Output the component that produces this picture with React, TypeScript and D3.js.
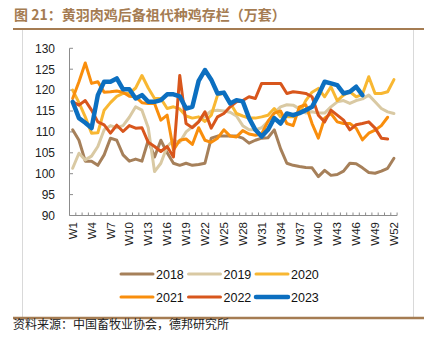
import React from "react";
import * as d3 from "d3";

const weeks: number[] = d3.range(1, 53);
const yTicks: number[] = [90, 95, 100, 105, 110, 115, 120, 125, 130];
const seriesNames: string[] = ["2018", "2019", "2020", "2021", "2022", "2023"];

const s2018: (number | null)[] = [110.5, 108, 103, 103, 102, 104.5, 108.5, 108, 104.5, 103, 103.5, 103, 108, 104, 108, 105, 102.5, 102, 102.5, 102, 102.2, 102.5, 108.5, 109, 109, 109, 109, 108.5, 107.3, 108, 108.5, 108.6, 110.5, 106, 102.5, 102, 101.7, 101.5, 101.4, 99.3, 100.8, 99.6, 99.8, 100.6, 102.5, 102.4, 101.4, 100.3, 100.1, 100.6, 101.3, 103.7];
const s2019: (number | null)[] = [101.3, 104.9, 103.3, 104.2, 106.5, 110.5, 111.5, 111, 111.5, 113.5, 116, 115.2, 111, 100.5, 102.5, 106.5, 108, 107.5, 110, 111.2, 112.5, 113.8, 115, 115.2, 115, 114.7, 113.8, 111.5, 110.5, 110.5, 111, 112.5, 114.5, 116, 116.5, 116.4, 115.5, 114.5, 114.8, 114.5, 114.5, 116, 117.2, 117.5, 116.8, 117.5, 117.9, 118.8, 117.2, 115.6, 114.8, 114.4];
const s2020: (number | null)[] = [120, 117, 113.6, 109.7, 109.8, 115.2, 117, 118.5, 119.2, 119.2, 120.5, 123.5, 120.5, 118, 118, 115.6, 116, 115.5, 113.8, 113.3, 113.6, 112.5, 114, 118.8, 119.3, 117, 114.4, 113.8, 113.3, 113.3, 113.6, 114, 115.6, 113.6, 113.6, 113.6, 114.5, 117.5, 119.5, 120.4, 118.4, 120.8, 117.5, 118.8, 119.6, 118.4, 119, 123.2, 119.2, 119.2, 119.6, 122.5];
const s2021: (number | null)[] = [118, 122, 126.5, 121.6, 122, 119.5, 119.6, 119.8, 119.5, 118.5, 118.4, 117, 116.8, 116.8, 112.8, 114, 105.7, 108, 108.3, 107, 111, 108, 107.5, 108.5, 110.5, 109, 108.8, 110.3, 109.5, 109.2, 109.5, 112.5, 114.5, 115, 112, 111.5, 116, 116.5, 112, 108.5, 113.3, 114.4, 112.4, 112, 112, 110.9, 108.1, 109.7, 110.4, 111.5, 113.5, null];
const s2022: (number | null)[] = [117.2, 116.4, 117.5, 115.2, 112.4, 111.7, 109.7, 111.6, 110.1, 111.5, 110.9, 111, 107.5, 106.5, 105.3, 106.5, 104, 123.5, 112, 111, 112.4, 114.8, 110.9, 113.6, 114.4, 116, 117.2, 117.5, 118.4, 118, 121.6, 121.6, 121.6, 121.6, 119.2, 119.6, 119.4, 119.2, 118.4, 114, 112.4, 115.2, 114, 112.8, 110.5, 111.7, 112, 112.4, 110.9, 108.5, 108.3, null];
const s2023: (number | null)[] = [117.2, 113.3, 112.2, 110.9, 118.8, 122, 122, 122.8, 120.2, 120.2, 118, 118.8, 117.2, 117.2, 117.6, 119, 119, 118.5, 115.6, 116, 122.2, 124.8, 122.5, 119.2, 119.4, 116.8, 117.6, 117.3, 113.3, 110.5, 108.9, 110.5, 113.3, 112, 114.4, 114, 114.5, 115.2, 116, 118.8, 122, 121.6, 121.2, 119.2, 119.6, 120.8, 118.8, null, null, null, null, null];

const allSeries = [s2018, s2019, s2020, s2021, s2022, s2023];
const colors = ["#A6805A", "#D9C9A3", "#F8B732", "#F98E0C", "#D8561C", "#0C6FC0"];
const widths = [3, 3, 3, 3, 3, 4.5];

export default function App() {
  const x = d3.scaleBand<string>().domain(weeks.map(String)).range([69.5, 397.1]).padding(0);
  const cx = (w: number) => (x(String(w)) as number) + x.bandwidth() / 2;
  const y = d3.scaleLinear().domain([90, 130]).range([215.5, 48.3]);
  const line = d3
    .line<number | null>()
    .defined((d) => d !== null)
    .x((_, i) => cx(weeks[i]))
    .y((d) => y(d as number));

  const font = "'Liberation Sans', Arial, sans-serif";
  const brown = "#A57C52";

  return (
    <svg
      width={437}
      height={356}
      style={{ position: "absolute", left: 0, top: 0, background: "#fff" }}
    >
      <rect x={0} y={0} width={437} height={356} fill="#fff" />
      <text
        x={14}
        y={20}
        fontFamily="'Noto Sans CJK SC', sans-serif"
        fontWeight="bold"
        fontSize={14}
        fill={brown}
      >
        图 21：黄羽肉鸡后备祖代种鸡存栏（万套）
      </text>
      {/* frame */}
      <rect x={22.5} y={29} width={391} height={289} fill="none" stroke="#D9D9D9" strokeWidth={1} />
      <line x1={13} x2={424} y1={29} y2={29} stroke={brown} strokeWidth={2} />
      <line x1={13} x2={424} y1={318} y2={318} stroke={brown} strokeWidth={2.5} />

      {/* y axis */}
      <line x1={69.5} x2={69.5} y1={y(130)} y2={y(90)} stroke="#8C8C8C" strokeWidth={1} />
      {yTicks.map((t) => (
        <g key={t}>
          <line x1={69.5} x2={73} y1={y(t)} y2={y(t)} stroke="#8C8C8C" strokeWidth={1} />
          <text
            x={55}
            y={y(t)}
            dy="0.36em"
            textAnchor="end"
            fontFamily={font}
            fontSize={12}
            fill="#222"
          >
            {t}
          </text>
        </g>
      ))}

      {/* x axis */}
      <line x1={69.5} x2={397.1} y1={y(90)} y2={y(90)} stroke="#8C8C8C" strokeWidth={1} />
      {weeks.map((w) => (
        <line
          key={w}
          x1={(x(String(w)) as number) + x.bandwidth()}
          x2={(x(String(w)) as number) + x.bandwidth()}
          y1={y(90)}
          y2={y(90) - 3}
          stroke="#8C8C8C"
          strokeWidth={1}
        />
      ))}
      {weeks
        .filter((w) => (w - 1) % 3 === 0)
        .map((w) => (
          <text
            key={w}
            transform={`translate(${cx(w)},${222}) rotate(-90)`}
            textAnchor="end"
            dy="0.36em"
            fontFamily={font}
            fontSize={11.5}
            fill="#222"
          >
            {`W${w}`}
          </text>
        ))}

      {/* series */}
      {allSeries.map((s, i) => (
        <path
          key={seriesNames[i]}
          d={line(s) || ""}
          fill="none"
          stroke={colors[i]}
          strokeWidth={widths[i]}
          strokeLinejoin="round"
          strokeLinecap="round"
        />
      ))}

      {/* legend */}
      {seriesNames.map((n, i) => {
        const col = i % 3;
        const row = Math.floor(i / 3);
        const x0 = 121 + col * 67.5;
        const yy = 274 + row * 23;
        return (
          <g key={n}>
            <line
              x1={x0}
              x2={x0 + 32}
              y1={yy}
              y2={yy}
              stroke={colors[i]}
              strokeWidth={widths[i]}
              strokeLinecap="round"
            />
            <text x={x0 + 35} y={yy} dy="0.36em" fontFamily={font} fontSize={12.5} fill="#111">
              {n}
            </text>
          </g>
        );
      })}

      <text
        x={13}
        y={329}
        fontFamily="'Noto Sans CJK SC', sans-serif"
        fontSize={12}
        fill="#222"
      >
        资料来源：中国畜牧业协会，德邦研究所
      </text>
    </svg>
  );
}
